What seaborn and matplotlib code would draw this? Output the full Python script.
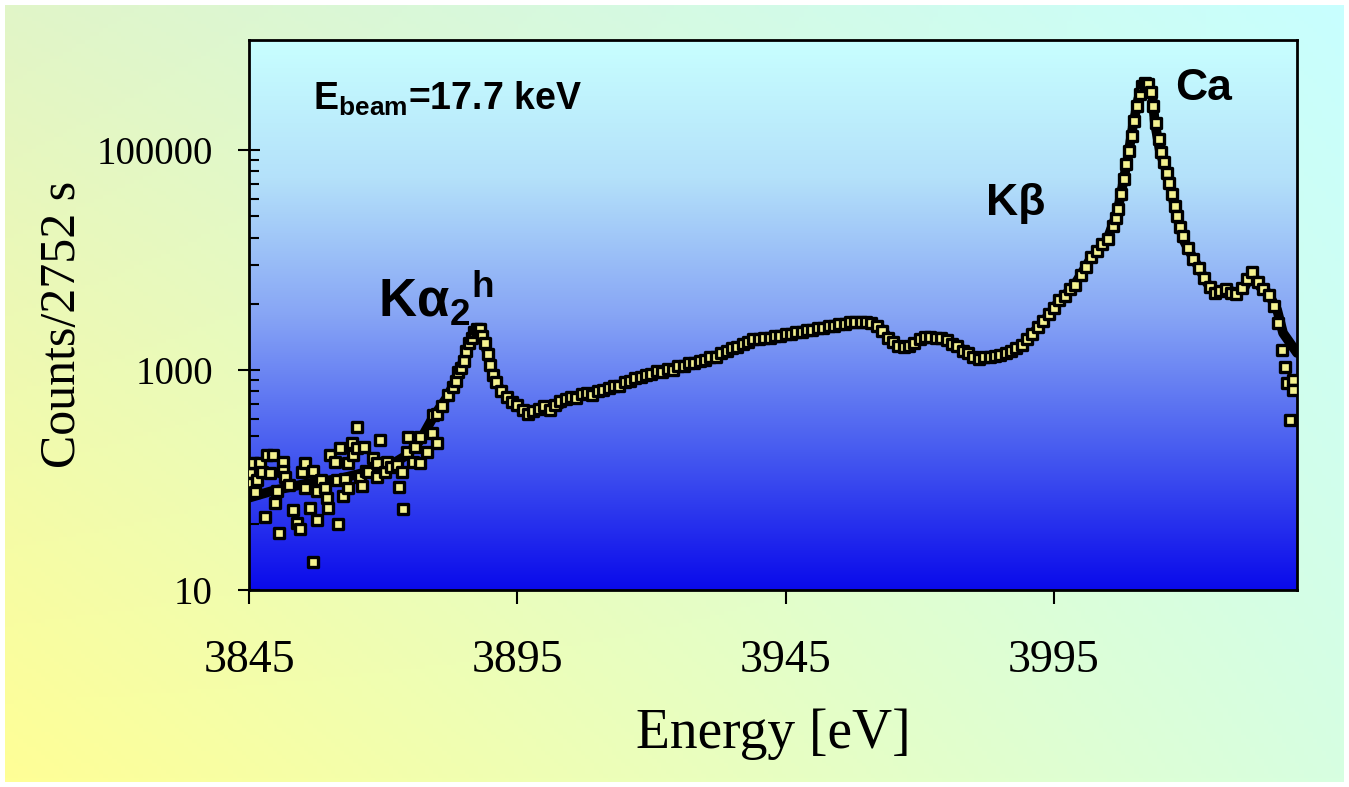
import numpy as np
import matplotlib.pyplot as plt
import matplotlib.ticker as mticker
import seaborn as sns

# =============================================================================
# DADOS
# =============================================================================

# curva ajustada (linha preta)
fit_energy = [3845.0, 3849.5, 3855.8, 3862.0, 3868.1, 3871.3, 3874.4, 3876.9, 3879.3, 3881.9,
              3883.8, 3885.6, 3887.0, 3887.6, 3888.2, 3889.4, 3890.5, 3892.3, 3894.9, 3897.4,
              3899.8, 3902.4, 3904.8, 3908.5, 3911.7, 3914.1, 3917.9, 3922.9, 3927.7, 3931.5,
              3935.2, 3938.9, 3942.7, 3947.7, 3952.7, 3957.6, 3960.7, 3962.6, 3965.0, 3967.6,
              3971.4, 3973.8, 3976.2, 3978.8, 3980.7, 3983.1, 3986.3, 3988.7, 3991.1, 3993.7,
              3996.1, 3998.6, 4001.7, 4004.9, 4006.8, 4007.9, 4008.8, 4009.7, 4010.7, 4011.6,
              4012.3, 4013.3, 4013.8, 4014.8, 4016.3, 4017.2, 4018.1, 4019.1, 4020.4, 4021.9,
              4023.5, 4025.0, 4027.3, 4029.1, 4030.6, 4031.9, 4033.4, 4034.9, 4036.6, 4037.7,
              4040.3]
fit_counts = [69, 80, 93, 103, 122, 136, 168, 230, 372, 566,
              861, 1517, 2250, 2400, 2150, 1430, 864, 617, 460, 414,
              450, 460, 556, 592, 658, 730, 863, 1000, 1157, 1285,
              1585, 1876, 1997, 2218, 2461, 2733, 2733, 2460, 1760, 1618,
              1997, 1955, 1760, 1456, 1285, 1312, 1428, 1618, 2172, 3036,
              4335, 5700, 10040, 15280, 26900, 50550, 87300, 163800, 288700, 412000,
              412000, 334000, 178000, 94900, 57400, 35400, 23300, 15300, 11630, 8670,
              6200, 5020, 5350, 5020, 5700, 7650, 5700, 5020, 3520, 2170,
              1430]

# pontos medidos na região ruidosa (baixa energia)
noisy_energy = [3845.2, 3845.2, 3845.7, 3846.1, 3846.5, 3847.0, 3847.4, 3848.0, 3848.4, 3848.9,
                3849.5, 3849.8, 3850.2, 3850.6, 3851.3, 3851.3, 3851.7, 3852.5, 3853.2, 3853.9,
                3854.5, 3854.9, 3855.4, 3855.4, 3856.4, 3856.9, 3856.9, 3857.7, 3857.7, 3858.5,
                3859.2, 3859.5, 3859.7, 3860.1, 3861.0, 3861.4, 3861.6, 3862.0, 3862.5, 3862.9,
                3863.4, 3863.4, 3864.2, 3864.4, 3865.1, 3865.1, 3865.7, 3866.1, 3866.4, 3866.8,
                3867.2, 3868.1, 3868.9, 3868.9, 3869.4, 3870.3, 3870.7, 3871.5, 3872.6, 3873.0,
                3873.5, 3873.7, 3874.4, 3874.6, 3875.6, 3875.9, 3876.9, 3876.9, 3878.2, 3879.1,
                3879.3, 3880.0]
noisy_counts = [115, 93, 142, 77, 99, 142, 117, 46, 168, 115,
                168, 62, 80, 33, 145, 122, 106, 90, 53, 41,
                36, 117, 142, 84, 56, 122, 18, 80, 43, 100,
                84, 68, 56, 168, 145, 99, 40, 194, 72, 103,
                142, 84, 216, 168, 302, 194, 106, 89, 198, 120,
                117, 157, 142, 106, 230, 117, 145, 130, 136, 86,
                117, 54, 178, 245, 145, 198, 245, 142, 178, 266,
                388, 216]

# pontos medidos ao longo dos picos
peak_energy = [3880, 3881, 3882, 3883, 3883.5, 3884, 3884.5, 3885, 3885.5, 3886,
               3886.5, 3887, 3887.5, 3888, 3888.5, 3889, 3889.5, 3890, 3890.5, 3891,
               3892, 3893, 3894, 3895, 3896, 3897, 3898, 3899, 3900, 3901,
               3902, 3903, 3904, 3905, 3906, 3907, 3908, 3909, 3910, 3911,
               3912, 3913, 3914, 3915, 3916, 3917, 3918, 3919, 3920, 3921,
               3922, 3923, 3924, 3925, 3926, 3927, 3928, 3929, 3930, 3931,
               3932, 3933, 3934, 3935, 3936, 3937, 3938, 3939, 3940, 3941,
               3942, 3943, 3944, 3945, 3946, 3947, 3948, 3949, 3950, 3951,
               3952, 3953, 3954, 3955, 3956, 3957, 3958, 3959, 3960, 3961,
               3962, 3963, 3964, 3965, 3966, 3967, 3968, 3969, 3970, 3971,
               3972, 3973, 3974, 3975, 3976, 3977, 3978, 3979, 3980, 3981,
               3982, 3983, 3984, 3985, 3986, 3987, 3988, 3989, 3990, 3991,
               3992, 3993, 3994, 3995, 3996, 3997, 3998, 3999, 4000, 4001,
               4002, 4003, 4004, 4005, 4006, 4006.5, 4007, 4007.5, 4008, 4008.5,
               4009, 4009.5, 4010, 4010.5, 4011, 4011.5, 4012, 4012.5, 4013, 4013.5,
               4014, 4014.5, 4015, 4015.5, 4016, 4016.5, 4017, 4017.5, 4018, 4018.5,
               4019, 4020, 4021, 4022, 4023, 4024, 4025, 4026, 4027, 4028,
               4029, 4030, 4031, 4032, 4033, 4034, 4035, 4036, 4036.8, 4037.5,
               4038.1, 4038.4, 4039.0, 4039.6, 4039.6]
peak_counts = [400, 470, 590, 700, 800, 950, 1050, 1200, 1500, 1750,
               1950, 2200, 2350, 2350, 2050, 1750, 1400, 1100, 900, 780,
               640, 570, 510, 480, 430, 400, 420, 440, 470, 430,
               480, 520, 540, 570, 560, 600, 620, 590, 650, 660,
               690, 710, 720, 780, 790, 850, 860, 910, 920, 970,
               960, 1020, 1010, 1090, 1080, 1150, 1150, 1220, 1230, 1300,
               1300, 1420, 1480, 1600, 1630, 1740, 1780, 1900, 1900, 1960,
               1970, 2020, 2030, 2120, 2130, 2220, 2220, 2300, 2320, 2400,
               2420, 2500, 2530, 2610, 2640, 2720, 2720, 2760, 2730, 2690,
               2520, 2260, 1960, 1780, 1670, 1630, 1660, 1770, 1910, 1980,
               2010, 1960, 1940, 1860, 1740, 1660, 1500, 1430, 1300, 1270,
               1300, 1300, 1350, 1370, 1430, 1490, 1590, 1690, 1920, 2130,
               2480, 2780, 3250, 3650, 4350, 4750, 5400, 5900, 7300, 8700,
               10600, 12000, 13900, 15600, 20500, 24000, 29000, 40000, 55000, 74000,
               97000, 135000, 185000, 250000, 320000, 380000, 405000, 395000, 340000, 250000,
               175000, 125000, 95000, 78000, 62000, 50000, 40000, 31000, 25000, 20000,
               16500, 12800, 10200, 8400, 6900, 5700, 5000, 5200, 5500, 5000,
               4900, 5600, 6700, 7700, 6300, 5400, 4800, 3800, 2660, 1520,
               1060, 760, 350, 810, 657]

# rótulos dos eixos
x_ticks = [3845, 3895, 3945, 3995]
y_ticks = [10, 1000, 100000]

# =============================================================================
# ESTILO
# =============================================================================
sns.set_theme(style='ticks')
plt.rcParams['font.family'] = ['Liberation Serif', 'DejaVu Serif']
plt.rcParams['mathtext.fontset'] = 'custom'
plt.rcParams['mathtext.rm'] = 'Liberation Sans'
plt.rcParams['mathtext.bf'] = 'Liberation Sans:bold'
plt.rcParams['mathtext.it'] = 'Liberation Sans:italic'

FIG_W, FIG_H = 1349, 787
AX_POS = [249 / FIG_W, 1 - 590 / FIG_H, (1297 - 249) / FIG_W, (590 - 40) / FIG_H]


def gradiente_fundo(fig):
    """Fundo da figura: amarelo (baixo-esq.) para ciano claro (cima-dir.)."""
    bg = fig.add_axes([5 / FIG_W, 5 / FIG_H, 1 - 10 / FIG_W, 1 - 10 / FIG_H], zorder=-10)
    xx = np.linspace(0, 1, 300)[None, :, None]
    yy = np.linspace(0, 1, 200)[:, None, None]
    bl = np.array([255, 255, 150]) / 255
    br = np.array([215, 255, 225]) / 255
    tl = np.array([225, 245, 200]) / 255
    tr = np.array([200, 255, 255]) / 255
    img = bl * (1 - xx) * (1 - yy) + br * xx * (1 - yy) + tl * (1 - xx) * yy + tr * xx * yy
    bg.imshow(img, origin='lower', aspect='auto', extent=[0, 1, 0, 1])
    bg.axis('off')


def gradiente_eixo(fig):
    """Fundo da área do gráfico: ciano claro em cima, azul embaixo."""
    gax = fig.add_axes(AX_POS, zorder=0)
    pos = [0.0, 0.25, 0.5, 0.75, 1.0]
    cores = np.array([[10, 10, 235], [70, 90, 240], [135, 165, 245],
                      [180, 225, 250], [200, 255, 255]]) / 255
    t = np.linspace(0, 1, 300)
    img = np.stack([np.interp(t, pos, cores[:, c]) for c in range(3)], axis=-1)
    gax.imshow(img[:, None, :], origin='lower', aspect='auto', extent=[0, 1, 0, 1])
    gax.axis('off')


# =============================================================================
# GRÁFICO
# =============================================================================
fig = plt.figure(figsize=(FIG_W / 100, FIG_H / 100), dpi=100)
fig.patch.set_facecolor('white')
gradiente_fundo(fig)
gradiente_eixo(fig)

ax = fig.add_axes(AX_POS, zorder=1)
ax.set_facecolor('none')
ax.set_yscale('log')

sns.lineplot(x=fit_energy, y=fit_counts, color='black', linewidth=7, ax=ax, zorder=2)
sns.scatterplot(x=noisy_energy + peak_energy, y=noisy_counts + peak_counts, marker='s', s=46,
                color='#F5F290', edgecolor='black', linewidth=2.4, ax=ax, zorder=3)

ax.set_xlim(3845, 4040.3)
ax.set_ylim(10, 1e6)

ax.xaxis.set_major_locator(mticker.FixedLocator(x_ticks))
ax.yaxis.set_major_locator(mticker.FixedLocator(y_ticks))
ax.yaxis.set_minor_locator(mticker.FixedLocator([b * k * k for b in y_ticks[:2] for k in range(2, 10)]))
ax.yaxis.set_major_formatter(mticker.FuncFormatter(lambda v, p: f'{v:.0f}'))
ax.yaxis.set_minor_formatter(mticker.NullFormatter())
ax.xaxis.set_minor_locator(mticker.NullLocator())

ax.tick_params(axis='y', which='major', direction='inout', length=16, width=1.5,
               labelsize=28, pad=18, color='black', labelcolor='black')
ax.tick_params(axis='y', which='minor', direction='in', length=7, width=1.5, color='black')
ax.tick_params(axis='x', which='major', direction='out', length=10, width=1.5,
               labelsize=33, pad=26, color='black', labelcolor='black')

for s in ax.spines.values():
    s.set_color('black')
    s.set_linewidth(2)

ax.set_xlabel('Energy [eV]', fontsize=40, labelpad=18, color='black')
ax.set_ylabel('Counts/2752 s', fontsize=36, color='black')
ax.yaxis.set_label_coords(-0.156, 0.482)

# anotações
txt = dict(transform=ax.transAxes, family='Liberation Sans', fontweight='bold',
           color='black', va='baseline', ha='left')
ax.text(0.061, 0.873, r'E$_{\mathbf{beam}}$=17.7 keV', fontsize=27, **txt)
ax.text(0.123, 0.496, r'Kα$_{\mathbf{2}}{}^{\mathbf{h}}$', fontsize=38, **txt)
ax.text(0.703, 0.682, 'Kβ', fontsize=32, **txt)
ax.text(0.8836, 0.891, 'Ca', fontsize=32, **txt)

fig.savefig('out.png', dpi=100)
